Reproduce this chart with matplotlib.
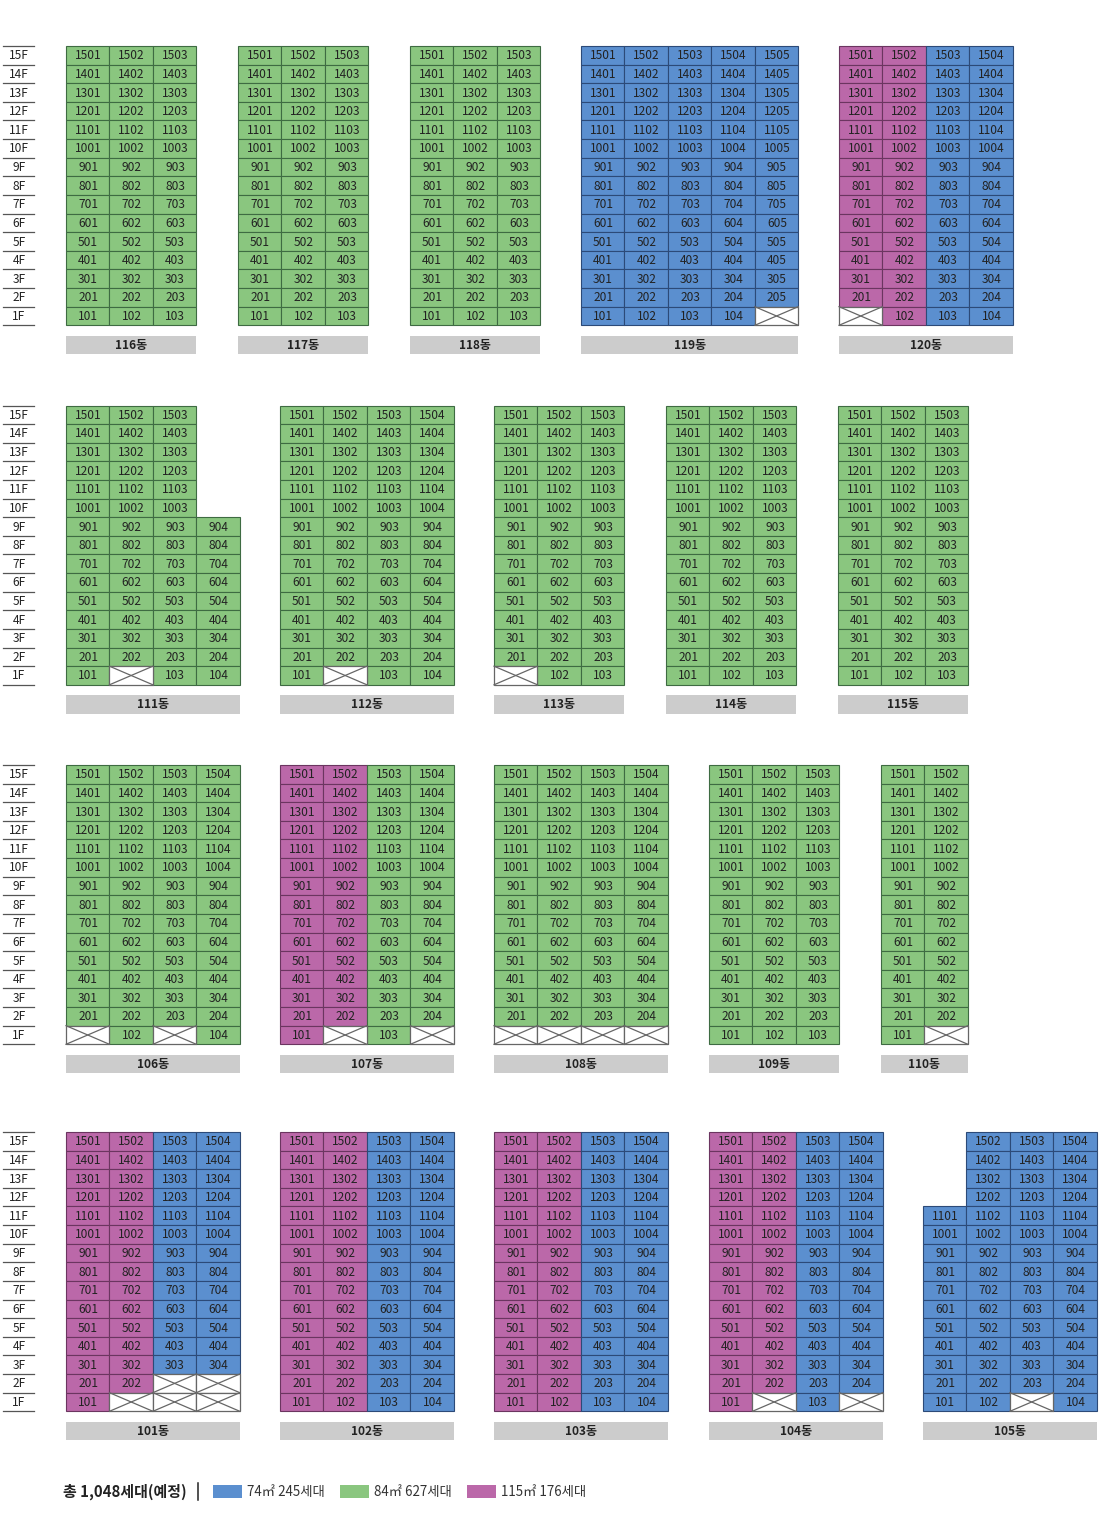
#!/usr/bin/env python3
import matplotlib
matplotlib.use("Agg")
import matplotlib.pyplot as plt
from matplotlib.patches import Rectangle

plt.rcParams["font.family"] = ["Noto Sans CJK KR", "DejaVu Sans"]

# 데이터
floors = list(range(15, 0, -1))

dong_names = [
    [116, 117, 118, 119, 120],
    [111, 112, 113, 114, 115],
    [106, 107, 108, 109, 110],
    [101, 102, 103, 104, 105],
]

# 라인별 타입 (74 / 84 / 115)
dong_types = {
    116: [84, 84, 84], 117: [84, 84, 84], 118: [84, 84, 84],
    119: [74, 74, 74, 74, 74], 120: [115, 115, 74, 74],
    111: [84, 84, 84, 84], 112: [84, 84, 84, 84], 113: [84, 84, 84],
    114: [84, 84, 84], 115: [84, 84, 84],
    106: [84, 84, 84, 84], 107: [115, 115, 84, 84], 108: [84, 84, 84, 84],
    109: [84, 84, 84], 110: [84, 84],
    101: [115, 115, 74, 74], 102: [115, 115, 74, 74], 103: [115, 115, 74, 74],
    104: [115, 115, 74, 74], 105: [74, 74, 74, 74],
}

# 세대 없는 칸 (층, 라인)
dong_crossed = {
    119: [(1, 5)], 120: [(1, 1)],
    111: [(1, 2)], 112: [(1, 2)], 113: [(1, 1)],
    106: [(1, 1), (1, 3)], 107: [(1, 2), (1, 4)],
    108: [(1, 1), (1, 2), (1, 3), (1, 4)], 110: [(1, 2)],
    101: [(2, 3), (2, 4), (1, 2), (1, 3), (1, 4)],
    104: [(1, 2), (1, 4)], 105: [(1, 3)],
}

# 라인별 최고층이 15층이 아닌 경우
dong_top_floor = {
    (111, 4): 9, (105, 1): 11,
}

legend_labels = ["74㎡ 245세대", "84㎡ 627세대", "115㎡ 176세대"]
legend_types = [74, 84, 115]
total_label = "총 1,048세대(예정)"

# 레이아웃
block_left = [
    [66, 238, 410, 581, 839],
    [66, 280, 494, 666, 838],
    [66, 280, 494, 709, 881],
    [66, 280, 494, 709, 923],
]
block_top = [46, 405.5, 765, 1132]
row_h = 18.62
col_w = 43.45

fills = {74: "#5B8FCF", 84: "#8AC67F", 115: "#BB68A9"}
edges = {74: "#2C4A78", 84: "#3E6B42", 115: "#6B3560"}
text_color = "#222222"
cell_size = 8.6


def draw_dong(ax, name, left, top):
    types = dong_types[name]
    crossed = dong_crossed.get(name, [])
    for c, t in enumerate(types, start=1):
        top_floor = dong_top_floor.get((name, c), 15)
        for f in floors:
            if f > top_floor:
                continue
            x = left + (c - 1) * col_w
            y = top + (15 - f) * row_h
            if (f, c) in crossed:
                ax.add_patch(Rectangle((x, y), col_w, row_h, fc="white",
                                       ec="#666666", lw=0.9, zorder=3))
                ax.plot([x, x + col_w], [y, y + row_h], color="#666666", lw=0.9, zorder=3)
                ax.plot([x, x + col_w], [y + row_h, y], color="#666666", lw=0.9, zorder=3)
            else:
                ax.add_patch(Rectangle((x, y), col_w, row_h, fc=fills[t],
                                       ec=edges[t], lw=0.8, zorder=2))
                ax.text(x + col_w / 2 + 0.4, y + row_h / 2 + 0.5, f"{f}{c:02d}",
                        ha="center", va="center", fontsize=cell_size,
                        color=text_color, zorder=4)
    # 동 이름 바
    w = len(types) * col_w
    bar_y = top + 15 * row_h + 10.5
    ax.add_patch(Rectangle((left, bar_y), w, 18.5, fc="#CCCCCC", ec="none"))
    ax.text(left + w / 2, bar_y + 9.5, f"{name}동", ha="center", va="center",
            fontsize=cell_size, fontweight="bold", color="#222222")


def draw_floor_labels(ax, top):
    for f in floors:
        y = top + (15 - f) * row_h
        ax.plot([3, 34], [y, y], color="#555555", lw=0.9)
        ax.text(19, y + row_h / 2 + 0.5, f"{f}F", ha="center", va="center",
                fontsize=cell_size, color=text_color)
    y = top + 15 * row_h
    ax.plot([3, 34], [y, y], color="#555555", lw=0.9)


def main():
    fig = plt.figure(figsize=(11, 15.22), dpi=100)
    ax = fig.add_axes([0, 0, 1, 1])
    ax.set_xlim(0, 1100)
    ax.set_ylim(1522, 0)
    ax.axis("off")

    for names, lefts, top in zip(dong_names, block_left, block_top):
        draw_floor_labels(ax, top)
        for name, left in zip(names, lefts):
            draw_dong(ax, name, left, top)

    # 범례
    ax.text(63, 1491.5, total_label, ha="left", va="center", fontsize=10.75,
            fontweight="bold", color="#222222")
    ax.plot([198, 198], [1483, 1500], color="#222222", lw=1.1)
    for label, t, x in zip(legend_labels, legend_types, [213, 340, 467]):
        ax.add_patch(Rectangle((x, 1484.5), 29, 13.5, fc=fills[t], ec="none"))
        ax.text(x + 34, 1491.8, label, ha="left", va="center", fontsize=9.6,
                color="#333333")

    fig.savefig("out.png", dpi=100)


if __name__ == "__main__":
    main()
